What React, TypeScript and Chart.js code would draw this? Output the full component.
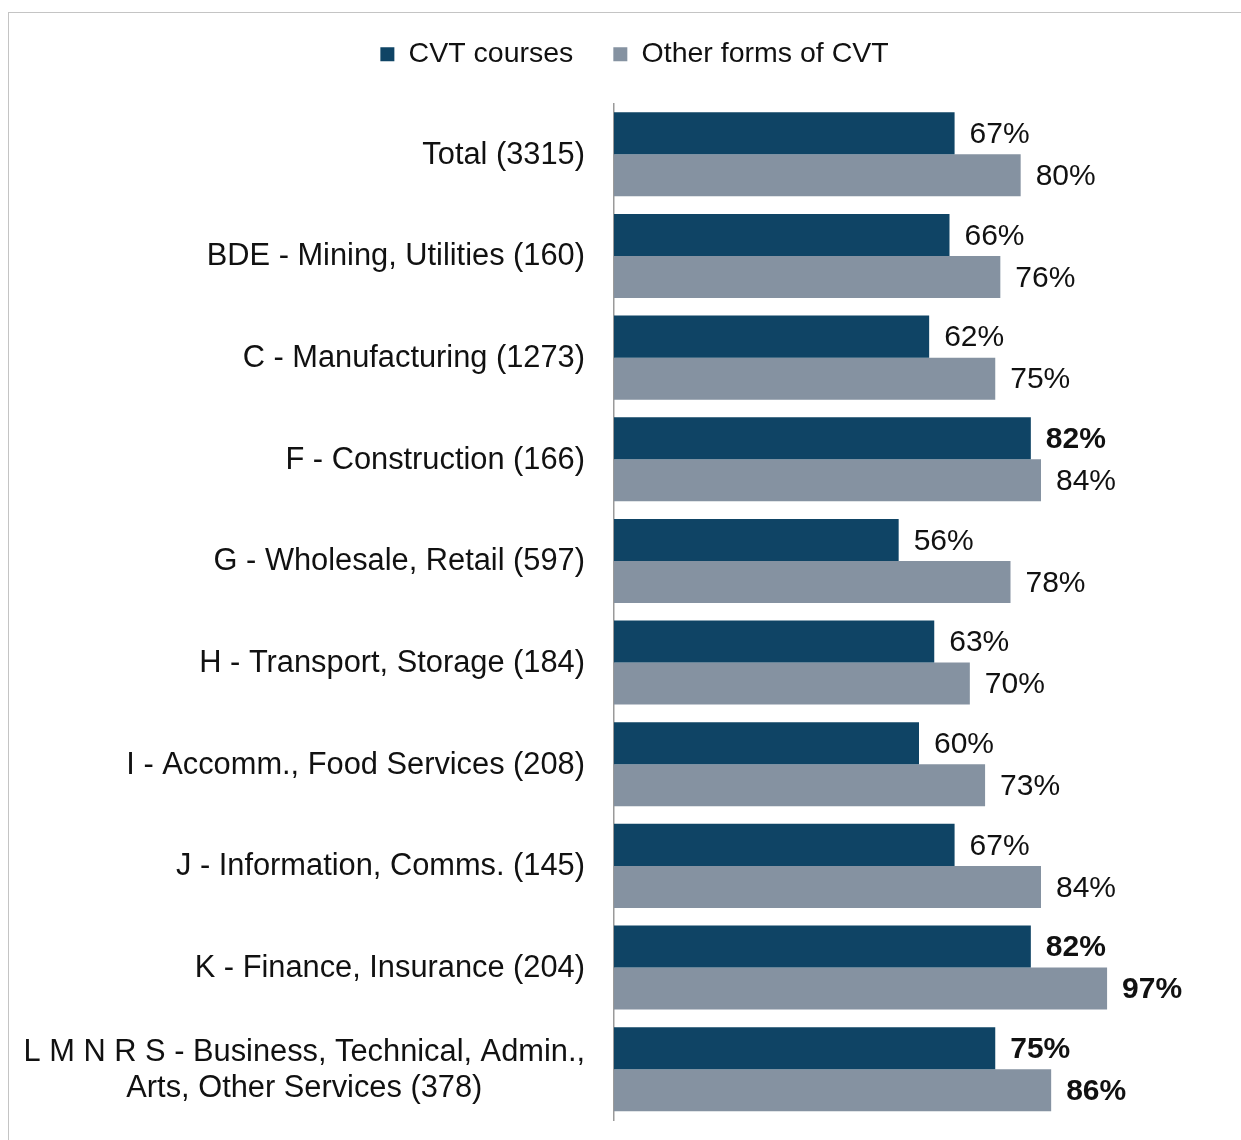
import React, { useEffect, useRef } from "react";
import { Chart, registerables } from "chart.js";

Chart.register(...registerables);

const categories: (string | string[])[] = [
  "Total (3315)",
  "BDE - Mining, Utilities (160)",
  "C - Manufacturing (1273)",
  "F - Construction (166)",
  "G - Wholesale, Retail (597)",
  "H - Transport, Storage (184)",
  "I - Accomm., Food Services (208)",
  "J - Information, Comms. (145)",
  "K - Finance, Insurance (204)",
  ["L M N R S - Business, Technical, Admin.,", "Arts, Other Services (378)"],
];

const cvtCourses = [67, 66, 62, 82, 56, 63, 60, 67, 82, 75];
const otherForms = [80, 76, 75, 84, 78, 70, 73, 84, 97, 86];

// values that are highlighted (bold) in the original
const cvtHighlight = [false, false, false, true, false, false, false, false, true, true];
const otherHighlight = [false, false, false, false, false, false, false, false, true, true];

const seriesNames = ["CVT courses", "Other forms of CVT"];

const FONT = "'Liberation Sans', Arial, sans-serif";
const DARK = "#0F4465";
const GRAY = "#8592A1";
const TEXT = "#111111";

const labelsPlugin = {
  id: "customLabels",
  afterDraw(chart: any) {
    const ctx = chart.ctx;
    const yScale = chart.scales.y;
    const area = chart.chartArea;
    ctx.save();
    // category labels
    ctx.font = `30.8px ${FONT}`;
    ctx.fillStyle = TEXT;
    ctx.textBaseline = "middle";
    ctx.textAlign = "center";
    const right = area.left - 29;
    categories.forEach((lab, i) => {
      const y = yScale.getPixelForValue(i);
      const lines = Array.isArray(lab) ? lab : [lab];
      const maxW = Math.max(...lines.map((l) => ctx.measureText(l).width));
      const cx = right - maxW / 2;
      const lh = 36;
      const startY = y - ((lines.length - 1) * lh) / 2;
      lines.forEach((l, j) => ctx.fillText(l, cx, startY + j * lh + 1));
    });
    // data labels
    ctx.textAlign = "left";
    const flags = [cvtHighlight, otherHighlight];
    chart.data.datasets.forEach((ds: any, di: number) => {
      const meta = chart.getDatasetMeta(di);
      meta.data.forEach((bar: any, i: number) => {
        const bold = flags[di][i];
        ctx.font = `${bold ? "bold " : ""}30px ${FONT}`;
        ctx.fillStyle = TEXT;
        ctx.fillText(`${ds.data[i]}%`, bar.x + 15, bar.y + 1.5);
      });
    });
    ctx.restore();
  },
};

export default function App() {
  const ref = useRef<HTMLCanvasElement | null>(null);
  useEffect(() => {
    if (!ref.current) return;
    const chart = new Chart(ref.current, {
      type: "bar",
      data: {
        labels: categories.map((c) => (Array.isArray(c) ? c.join(" ") : c)),
        datasets: [
          {
            label: seriesNames[0],
            data: cvtCourses,
            backgroundColor: DARK,
            borderWidth: 0,
            categoryPercentage: 0.827,
            barPercentage: 1,
          },
          {
            label: seriesNames[1],
            data: otherForms,
            backgroundColor: GRAY,
            borderWidth: 0,
            categoryPercentage: 0.827,
            barPercentage: 1,
          },
        ],
      },
      options: {
        indexAxis: "y",
        responsive: false,
        animation: false,
        layout: { padding: { left: 45, right: 17, top: 0, bottom: 20 } },
        plugins: {
          legend: {
            display: true,
            position: "top",
            labels: {
              font: { family: FONT, size: 28.5 },
              color: TEXT,
              boxWidth: 14,
              boxHeight: 14,
              padding: 40,
            },
          },
          tooltip: { enabled: false },
        },
        scales: {
          x: {
            position: "top",
            min: 0,
            max: 120,
            ticks: { display: false },
            grid: { display: false },
            border: { display: false },
            afterFit: (s: any) => {
              s.height = 25;
            },
          },
          y: {
            ticks: { display: false },
            grid: { display: false },
            border: { display: true, color: "#9a9a9a", width: 1.5 },
            afterFit: (s: any) => {
              s.width = 569;
            },
          },
        },
      } as any,
      plugins: [labelsPlugin],
    });
    return () => chart.destroy();
  }, []);

  return (
    <div
      style={{
        position: "absolute",
        left: 0,
        top: 0,
        width: 1241,
        height: 1140,
        overflow: "hidden",
        background: "#fff",
      }}
    >
      <div
        style={{
          position: "absolute",
          left: 8,
          top: 12,
          width: 1400,
          height: 1400,
          border: "1px solid #c4c4c4",
        }}
      />
      <canvas
        ref={ref}
        width={1241}
        height={1140}
        style={{ position: "absolute", left: 0, top: 0, width: 1241, height: 1140 }}
      />
    </div>
  );
}
